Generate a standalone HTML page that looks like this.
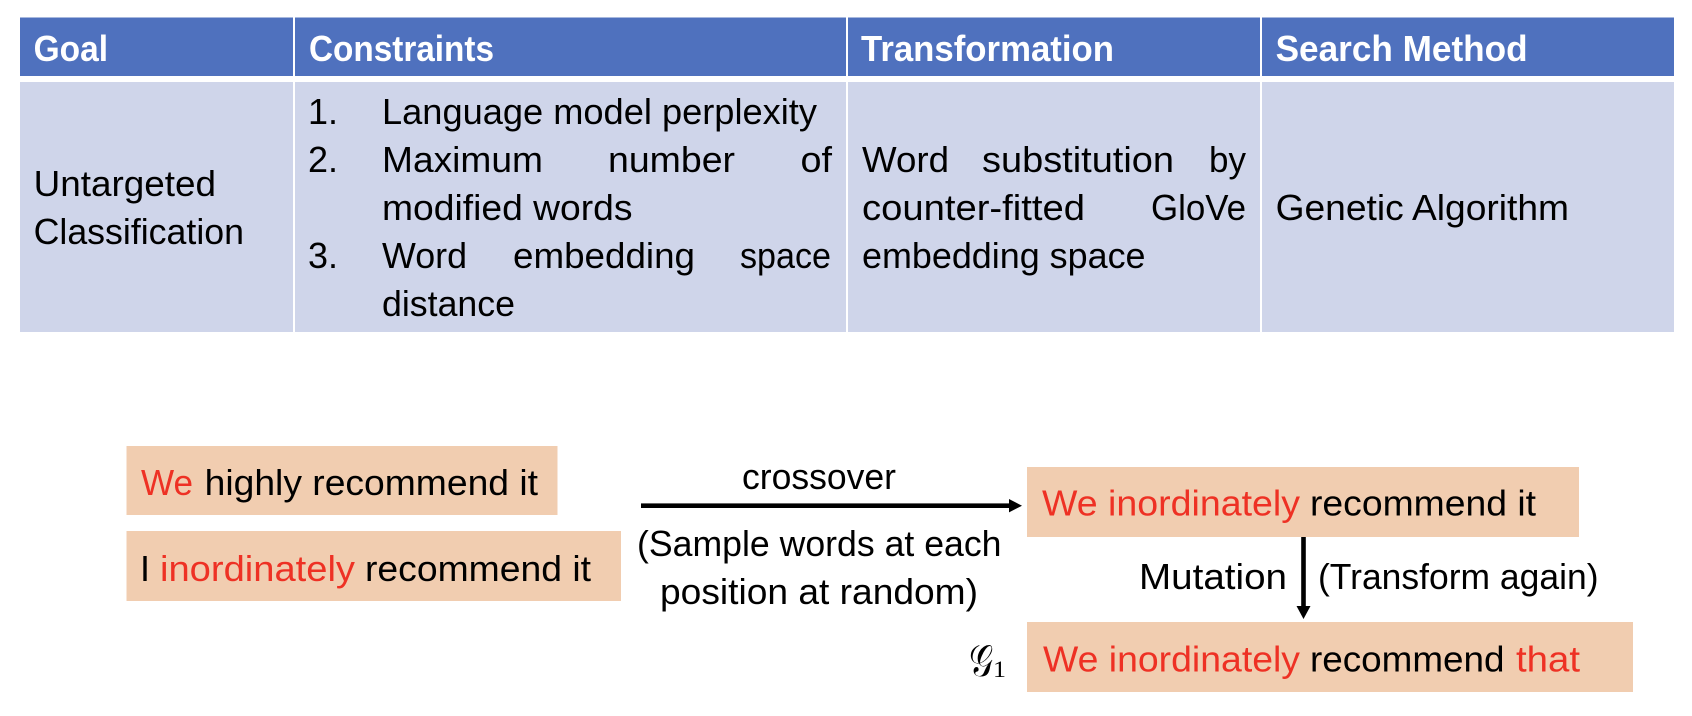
<!DOCTYPE html>
<html>
<head>
<meta charset="utf-8">
<style>
html,body{margin:0;padding:0;background:#fff}
svg{display:block}
text{font-family:"Liberation Sans",sans-serif;font-size:36px;fill:#000}
.b{font-weight:bold;fill:#fff}
.r{fill:#ee3124}
</style>
</head>
<body>
<svg width="1692" height="716" viewBox="0 0 1692 716" xmlns="http://www.w3.org/2000/svg">
<rect width="1692" height="716" fill="#fff"/>
<rect x="20" y="17.5" width="1654" height="58.5" fill="#4f71be"/>
<rect x="20" y="82" width="1654" height="250" fill="#cfd5ea"/>
<rect x="293" y="17" width="2" height="316" fill="#fff"/>
<rect x="846" y="17" width="2" height="316" fill="#fff"/>
<rect x="1260" y="17" width="2" height="316" fill="#fff"/>

<text class="b" x="33.6" y="61" textLength="74.4" lengthAdjust="spacingAndGlyphs">Goal</text>
<text class="b" x="309" y="61" textLength="185" lengthAdjust="spacingAndGlyphs">Constraints</text>
<text class="b" x="861" y="61" textLength="253" lengthAdjust="spacingAndGlyphs">Transformation</text>
<text class="b" x="1275.6" y="61" textLength="252" lengthAdjust="spacingAndGlyphs">Search Method</text>

<text x="33.6" y="196" textLength="182.4" lengthAdjust="spacingAndGlyphs">Untargeted</text>
<text x="33.6" y="244" textLength="210.4" lengthAdjust="spacingAndGlyphs">Classification</text>

<text x="308" y="124" textLength="30" lengthAdjust="spacingAndGlyphs">1.</text>
<text x="382" y="124" textLength="435" lengthAdjust="spacingAndGlyphs">Language model perplexity</text>
<text x="308" y="172" textLength="30" lengthAdjust="spacingAndGlyphs">2.</text>
<text x="382" y="172" textLength="161" lengthAdjust="spacingAndGlyphs">Maximum</text>
<text x="608" y="172" textLength="127" lengthAdjust="spacingAndGlyphs">number</text>
<text x="800.5" y="172" textLength="31.5" lengthAdjust="spacingAndGlyphs">of</text>
<text x="382" y="220" textLength="250.5" lengthAdjust="spacingAndGlyphs">modified words</text>
<text x="308" y="268" textLength="30" lengthAdjust="spacingAndGlyphs">3.</text>
<text x="382" y="268" textLength="85" lengthAdjust="spacingAndGlyphs">Word</text>
<text x="513" y="268" textLength="182" lengthAdjust="spacingAndGlyphs">embedding</text>
<text x="740" y="268" textLength="91" lengthAdjust="spacingAndGlyphs">space</text>
<text x="382" y="316" textLength="133" lengthAdjust="spacingAndGlyphs">distance</text>

<text x="862" y="172" textLength="87" lengthAdjust="spacingAndGlyphs">Word</text>
<text x="982" y="172" textLength="192" lengthAdjust="spacingAndGlyphs">substitution</text>
<text x="1209" y="172" textLength="37" lengthAdjust="spacingAndGlyphs">by</text>
<text x="862" y="220" textLength="223" lengthAdjust="spacingAndGlyphs">counter-fitted</text>
<text x="1151" y="220" textLength="95" lengthAdjust="spacingAndGlyphs">GloVe</text>
<text x="862" y="268" textLength="283.5" lengthAdjust="spacingAndGlyphs">embedding space</text>
<text x="1275.6" y="220" textLength="293.4" lengthAdjust="spacingAndGlyphs">Genetic Algorithm</text>

<rect x="126.5" y="446" width="431" height="69" fill="#f1cdb0"/>
<rect x="126.5" y="531" width="494.5" height="70" fill="#f1cdb0"/>
<rect x="1027" y="467" width="552" height="70" fill="#f1cdb0"/>
<rect x="1027" y="622" width="606" height="70" fill="#f1cdb0"/>

<text class="r" x="141" y="495" textLength="52" lengthAdjust="spacingAndGlyphs">We</text>
<text x="204.6" y="495" textLength="333.4" lengthAdjust="spacingAndGlyphs">highly recommend it</text>
<text x="140" y="581">I</text>
<text class="r" x="160" y="581" textLength="195" lengthAdjust="spacingAndGlyphs">inordinately</text>
<text x="365" y="581" textLength="226" lengthAdjust="spacingAndGlyphs">recommend it</text>

<text x="742" y="489" textLength="154" lengthAdjust="spacingAndGlyphs">crossover</text>
<text x="637" y="556" textLength="364.5" lengthAdjust="spacingAndGlyphs">(Sample words at each</text>
<text x="660" y="604" textLength="318" lengthAdjust="spacingAndGlyphs">position at random)</text>

<rect x="641" y="503.4" width="369" height="4.6" fill="#000"/>
<polygon points="1009,499 1022,505.7 1009,512.4" fill="#000"/>

<text class="r" x="1042" y="515.7" textLength="258" lengthAdjust="spacingAndGlyphs">We inordinately</text>
<text x="1310" y="515.7" textLength="226" lengthAdjust="spacingAndGlyphs">recommend it</text>

<rect x="1301.2" y="537" width="4.6" height="70" fill="#000"/>
<polygon points="1296.5,606 1310.5,606 1303.5,619" fill="#000"/>

<text x="1139" y="589" textLength="148" lengthAdjust="spacingAndGlyphs">Mutation</text>
<text x="1318" y="589" textLength="280.5" lengthAdjust="spacingAndGlyphs">(Transform again)</text>

<text x="969" y="676" style="font-family:'Liberation Serif','DejaVu Sans','DejaVu Serif',serif;font-size:44px" textLength="24" lengthAdjust="spacingAndGlyphs">𝒢</text>
<text x="993" y="677" style="font-family:'Liberation Serif',serif;font-size:23px" textLength="13" lengthAdjust="spacingAndGlyphs">1</text>

<text class="r" x="1043" y="671.7" textLength="257" lengthAdjust="spacingAndGlyphs">We inordinately</text>
<text x="1310" y="671.7" textLength="194.5" lengthAdjust="spacingAndGlyphs">recommend</text>
<text class="r" x="1516" y="671.7" textLength="64" lengthAdjust="spacingAndGlyphs">that</text>
</svg>
</body>
</html>
